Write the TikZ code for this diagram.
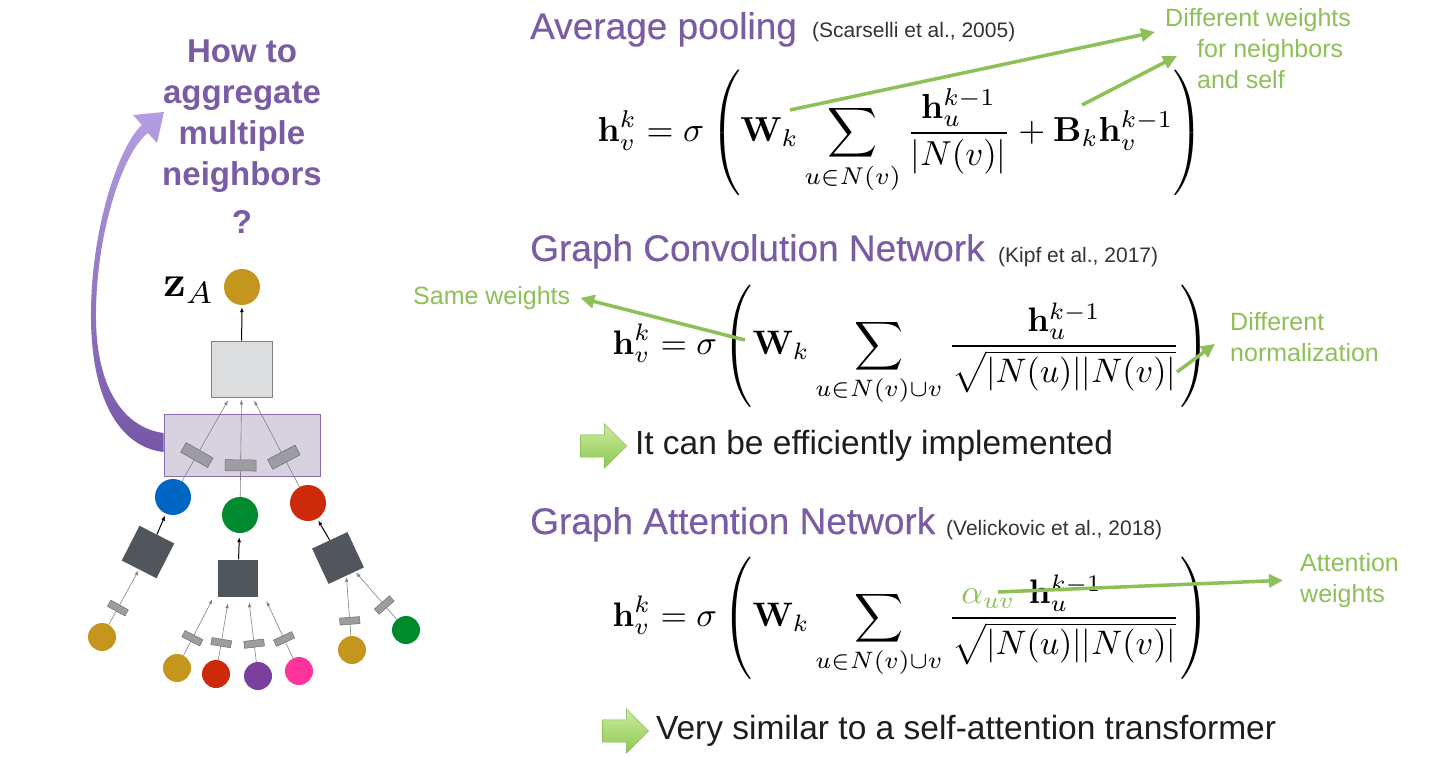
\documentclass[tikz,border=0pt]{standalone}
\usepackage[no-math]{fontspec}
\setmainfont{Liberation Sans}
\newfontfamily\titlefont[FakeBold=0.3]{Liberation Sans}
\usepackage{amsmath}
\usetikzlibrary{arrows.meta,shapes.arrows,positioning,calc}

\definecolor{slidepurple}{RGB}{122,92,164}
\definecolor{notegreen}{RGB}{141,192,86}
\definecolor{bodytext}{RGB}{30,30,30}
\definecolor{blocklight}{RGB}{205,235,160}
\definecolor{blockdark}{RGB}{140,200,80}
\definecolor{blockline}{RGB}{122,182,72}
\definecolor{arrowlight}{RGB}{180,158,226}
\definecolor{arrowdark}{RGB}{118,86,166}
\definecolor{nodegold}{RGB}{197,150,30}
\definecolor{nodeblue}{RGB}{0,102,196}
\definecolor{nodegreen}{RGB}{0,138,46}
\definecolor{nodered}{RGB}{204,42,10}
\definecolor{nodepurple}{RGB}{123,63,158}
\definecolor{nodepink}{RGB}{255,51,153}
\definecolor{sqgray}{RGB}{81,85,92}
\definecolor{boxfill}{RGB}{220,221,223}
\definecolor{boxline}{RGB}{128,128,128}
\definecolor{aggfill}{RGB}{216,209,224}
\definecolor{aggline}{RGB}{140,110,180}
\definecolor{rectgray}{RGB}{156,156,163}
\definecolor{rectline}{RGB}{110,110,110}
\definecolor{edgegray}{RGB}{130,130,130}

\begin{document}
\begin{tikzpicture}[x=1pt, y=-1pt,
    ttl/.style={anchor=base west, inner sep=0, text=slidepurple,
                font=\titlefont\fontsize{37}{40}\selectfont},
    citetxt/.style={anchor=base west, inner sep=0, text=black!80,
                font=\fontsize{21}{24}\selectfont},
    formula/.style={anchor=west, inner sep=0, scale=3.4},
    note/.style={inner sep=0, align=left, text=notegreen,
                font=\fontsize{25}{31}\selectfont},
    noteline/.style={-{Triangle[length=14pt, width=13pt]}, line width=3.5pt,
                draw=notegreen},
    bodytxt/.style={inner sep=0, text=bodytext, font=\fontsize{33.5}{40}\selectfont},
    blockarrow/.style={single arrow, draw=blockline, top color=blocklight,
                bottom color=blockdark, minimum height=46pt, inner xsep=0pt,
                inner ysep=11pt, single arrow head extend=11pt},
    leaf/.style={circle, minimum size=28pt, inner sep=0},
    hid/.style={circle, minimum size=36pt, inner sep=0},
    sq/.style={rectangle, fill=sqgray, minimum size=39pt, inner sep=0},
    wsmall/.style={rectangle, sloped, draw=rectline, fill=rectgray, line width=0.5pt,
                inner sep=0, minimum width=7pt, minimum height=20pt},
    wbig/.style={wsmall, minimum width=11pt, minimum height=31pt},
    nbedge/.style={draw=edgegray, line width=0.6pt, -{Latex[length=5pt, width=3.5pt]},
                shorten >=1pt},
    fwd/.style={draw=black, line width=1pt, -{Latex[length=5pt, width=4pt]},
                shorten >=2pt}]

\fill[white] (0,0) rectangle (1453,757);
\useasboundingbox (0,0) rectangle (1453,757);

% question on the left
\node[anchor=north, inner sep=0, align=center, text=slidepurple,
      font=\bfseries\fontsize{33}{41}\selectfont] (ask) at (242,40)
      {How to\\aggregate\\multiple\\neighbors\\[7pt]?};

% tree: output and aggregation
\node[circle, fill=nodegold, minimum size=36pt, inner sep=0] (zA) at (242,287) {};
\node[scale=4.4] (zlab) at (189,290) {$\mathbf{z}_A$};
\node[draw=boxline, fill=boxfill, line width=1pt, minimum width=61pt,
      minimum height=56pt, inner sep=0] (hbox) at (241.5,369) {};
\node[draw=aggline, fill=aggfill, line width=1pt, minimum width=156pt,
      minimum height=62pt, inner sep=0] (agg) at (242,445) {};

% hidden layer
\node[hid, fill=nodeblue] (hb) at (173,497) {};
\node[hid, fill=nodegreen] (hg) at (240,515) {};
\node[hid, fill=nodered] (hr) at (308,503) {};
\node[sq, rotate=-27] (lsq) at (148,552) {};
\node[sq, minimum width=40pt, minimum height=37pt] (msq) at (238,578) {};
\node[sq, rotate=25] (rsq) at (338,558) {};

% input layer
\node[leaf, fill=nodegold] (l1) at (102,637) {};
\node[leaf, fill=nodegold] (l2) at (177,668) {};
\node[leaf, fill=nodered] (l3) at (216,674) {};
\node[leaf, fill=nodepurple] (l4) at (258,676) {};
\node[leaf, fill=nodepink] (l5) at (299,671) {};
\node[leaf, fill=nodegold] (l6) at (352,650) {};
\node[leaf, fill=nodegreen] (l7) at (406,630) {};

\draw[fwd] (hbox) -- (zA);
\draw[nbedge] (hb) -- ($(hbox.south)+(-13,2)$) node[pos=0.32, wbig] {};
\draw[nbedge] (hg) -- ($(hbox.south)+(0,1)$) node[pos=0.32, wbig] {};
\draw[nbedge] (hr) -- ($(hbox.south)+(12,2)$) node[pos=0.34, wbig] {};

\draw[fwd] (lsq.north) -- (hb);
\draw[fwd, shorten >=4pt] (msq) -- (hg);
\draw[fwd] (rsq.north) -- (hr);

\draw[nbedge] (l1) -- (lsq.south) node[pos=0.3, wsmall] {};
\draw[nbedge] (l2) -- ($(msq.south)+(-25,1.5)$) node[pos=0.3, wsmall] {};
\draw[nbedge] (l3) -- ($(msq.south)+(-10,5.5)$) node[pos=0.3, wsmall] {};
\draw[nbedge] (l4) -- ($(msq.south)+(11,4.5)$) node[pos=0.3, wsmall] {};
\draw[nbedge] (l5) -- ($(msq.south)+(28,3.5)$) node[pos=0.33, wsmall] {};
\draw[nbedge] (l6) -- (rsq.south) node[pos=0.25, wsmall] {};
\draw[nbedge] (l7) -- ($(rsq.south)!0.5!(rsq.south east)$) node[pos=0.3, wsmall] {};

% curved arrow from the aggregation box to the question
\shade[top color=arrowlight, bottom color=arrowdark]
  ($(agg.west)+(0,7)$) .. controls (120,447) and (92,400) .. (91,320)
  .. controls (90,228) and (120,144) .. (142,125)
  -- (133,115) -- (164,112) -- (157,143) -- (148,133)
  .. controls (124,150) and (95,233) .. (96,320)
  .. controls (97,390) and (125,428) .. ($(agg.west)+(0,-12)$) -- cycle;

% average pooling
\node[ttl] (t1) at (530,39) {Average pooling};
\node[citetxt] (c1) at (812,38) {(Scarselli et al., 2005)};
\node[formula, scale=3.47/3.4] (f1) at (597,133)
  {$\displaystyle \mathbf{h}_v^k = \sigma\left(\mathbf{W}_k \sum_{u\in N(v)}
   \frac{\mathbf{h}_u^{k-1}}{|N(v)|} + \mathbf{B}_k\mathbf{h}_v^{k-1}\right)$};
\node[note, anchor=north west] (dw) at (1165,8)
  {Different weights\\\hspace*{32pt}for neighbors\\\hspace*{32pt}and self};
\coordinate (wk1) at (790,110);
\coordinate (bk1) at (1082,105);
\draw[noteline] (wk1) -- ($(dw.north west)+(-10,24)$);
\draw[noteline] (bk1) -- ($(dw.north west)+(12,48)$);

% graph convolution network
\node[ttl] (t2) at (530,261) {Graph Convolution Network};
\node[citetxt] (c2) at (998,262) {(Kipf et al., 2017)};
\node[formula] (f2) at (612,346)
  {$\displaystyle \mathbf{h}_v^k = \sigma\left(\mathbf{W}_k \sum_{u\in N(v)\cup v}
   \frac{\mathbf{h}_u^{k-1}}{\sqrt{|N(u)||N(v)|}}\right)$};
\node[note, anchor=west] (sw) at (413,298) {Same weights};
\node[note, anchor=north west] (dn) at (1230,312) {Different\\normalization};
\coordinate (wk2) at (745,340);
\coordinate (den2) at (1177,372);
\draw[noteline] (wk2) -- ($(sw.east)+(10,0)$);
\draw[noteline] (den2) -- ($(dn.west)+(-15,7)$);

\node[blockarrow] (ba1) at (598,446) {};
\node[bodytxt, right=8pt of ba1] (b1) {It can be efficiently implemented};

% graph attention network
\node[ttl] (t3) at (530,534) {Graph Attention Network};
\node[citetxt] (c3) at (946,535) {(Velickovic et al., 2018)};
\node[formula] (f3) at (612,618)
  {$\displaystyle \mathbf{h}_v^k = \sigma\left(\mathbf{W}_k \sum_{u\in N(v)\cup v}
   \frac{\textcolor{notegreen}{\alpha_{uv}}\hspace{4pt}\mathbf{h}_u^{k-1}\hspace{19pt}}{\sqrt{|N(u)||N(v)|}}\right)$};
\node[note, anchor=north west] (aw) at (1300,553) {Attention\\weights};
\coordinate (att3) at (998,592);
\draw[noteline] (att3) -- ($(aw.west)+(-17,0)$);

\node[blockarrow] (ba2) at (620,731) {};
\node[bodytxt, right=7pt of ba2] (b2) {Very similar to a self-attention transformer};

\end{tikzpicture}
\end{document}
